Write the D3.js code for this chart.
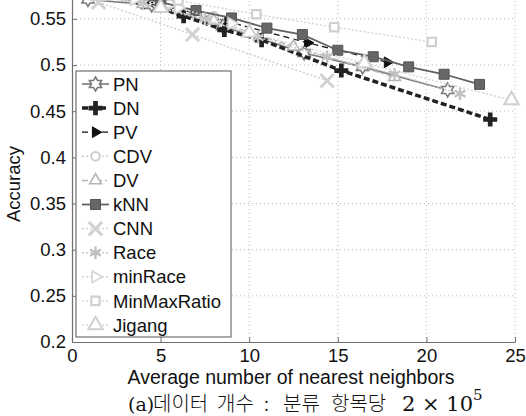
<!DOCTYPE html>
<html>
<head>
<meta charset="utf-8">
<script src="https://cdn.jsdelivr.net/npm/d3@7"></script>
<style>
  body { margin: 0; background: #fff; }
  svg { display: block; font-family: "Liberation Sans", Arial, sans-serif; }
</style>
</head>
<body>
<div id="chart"></div>
<script>
const svgWidth = 526
const svgHeight = 416

// x ticks and y ticks
const xTicks = [0, 5, 10, 15, 20, 25]
const yTicks = [0.2, 0.25, 0.3, 0.35, 0.4, 0.45, 0.5, 0.55]

// series (average number of nearest neighbors, accuracy)
const pnX = [0.9, 4.5, 8.5, 13.1, 16.4, 21.2]
const pnY = [0.571, 0.565, 0.542, 0.513, 0.498, 0.473]
const dnX = [1.5, 4, 6.3, 8.6, 10.7, 15.2, 23.6]
const dnY = [0.578, 0.568, 0.553, 0.538, 0.527, 0.494, 0.441]
const pvX = [1, 3, 5.5, 8.8, 13.3, 17.8]
const pvY = [0.585, 0.575, 0.563, 0.547, 0.524, 0.503]
const cdvX = [0.8, 3, 5.5, 8]
const cdvY = [0.58, 0.574, 0.566, 0.553]
const dvX = [1, 4, 8, 12.5, 18.2]
const dvY = [0.578, 0.566, 0.548, 0.52, 0.487]
const knnX = [1, 3, 5, 7, 9, 11, 13, 15, 17, 19, 21, 23]
const knnY = [0.585, 0.577, 0.568, 0.559, 0.551, 0.54, 0.533, 0.516, 0.509, 0.498, 0.49, 0.479]
const cnnX = [1.5, 6.8, 14.4]
const cnnY = [0.568, 0.533, 0.483]
const raceX = [1.2, 4, 7.5, 10.5, 14.4, 18.2, 21.9]
const raceY = [0.575, 0.567, 0.55, 0.53, 0.509, 0.49, 0.469]
const minRaceX = [1, 3.5, 6, 9]
const minRaceY = [0.578, 0.571, 0.562, 0.545]
const mmrX = [2, 6, 10.4, 14.8, 20.3]
const mmrY = [0.585, 0.57, 0.555, 0.541, 0.525]
const jigangX = [1.5, 5, 10, 16.5, 24.8]
const jigangY = [0.575, 0.562, 0.535, 0.502, 0.462]

const names = ["PN", "DN", "PV", "CDV", "DV", "kNN", "CNN", "Race", "minRace", "MinMaxRatio", "Jigang"]

const hexagram = (r) => {
  let pts = []
  for (let i = 0; i < 12; i++) {
    let a = -Math.PI / 2 + i * Math.PI / 6
    let rr = i % 2 === 0 ? r : r * 0.58
    pts.push([rr * Math.cos(a), rr * Math.sin(a)])
  }
  return "M" + pts.map(p => p.join(",")).join("L") + "Z"
}

const series = [
  { name: "PN", xs: pnX, ys: pnY, color: "#7a7a7a", width: 1.6, dash: null,
    marker: hexagram(7), mFill: "#fff", mStroke: "#7a7a7a", mWidth: 1.6 },
  { name: "DN", xs: dnX, ys: dnY, color: "#222", width: 3.5, dash: "6,3",
    marker: d3.symbol(d3.symbolCross, 110)(), mFill: "#222", mStroke: "#222", mWidth: 0 },
  { name: "PV", xs: pvX, ys: pvY, color: "#111", width: 1.2, dash: "6,4",
    marker: d3.symbol(d3.symbolTriangle, 50)(), rot: 90, mFill: "#111", mStroke: "#111", mWidth: 1 },
  { name: "CDV", xs: cdvX, ys: cdvY, color: "#cdcdcd", width: 1.5, dash: "2,2",
    marker: d3.symbol(d3.symbolCircle, 60)(), mFill: "#fff", mStroke: "#cdcdcd", mWidth: 2 },
  { name: "DV", xs: dvX, ys: dvY, color: "#b5b5b5", width: 1.5, dash: "6,3,2,3",
    marker: d3.symbol(d3.symbolTriangle, 60)(), mFill: "#fff", mStroke: "#b5b5b5", mWidth: 1.6 },
  { name: "kNN", xs: knnX, ys: knnY, color: "#606060", width: 1.8, dash: null,
    marker: d3.symbol(d3.symbolSquare, 100)(), mFill: "#666", mStroke: "#555", mWidth: 1 },
  { name: "CNN", xs: cnnX, ys: cnnY, color: "#d2d2d2", width: 1.5, dash: "2,2",
    marker: d3.symbol(d3.symbolX, 120)(), mFill: "none", mStroke: "#d2d2d2", mWidth: 3 },
  { name: "Race", xs: raceX, ys: raceY, color: "#c8c8c8", width: 1.5, dash: "2,2",
    marker: d3.symbol(d3.symbolAsterisk, 110)(), mFill: "none", mStroke: "#c0c0c0", mWidth: 2.4 },
  { name: "minRace", xs: minRaceX, ys: minRaceY, color: "#d4d4d4", width: 1.5, dash: "2,2",
    marker: d3.symbol(d3.symbolTriangle, 60)(), rot: 90, mFill: "#fff", mStroke: "#d4d4d4", mWidth: 1.6 },
  { name: "MinMaxRatio", xs: mmrX, ys: mmrY, color: "#d6d6d6", width: 1.5, dash: "2,2",
    marker: d3.symbol(d3.symbolSquare, 70)(), mFill: "#fff", mStroke: "#d0d0d0", mWidth: 2.2 },
  { name: "Jigang", xs: jigangX, ys: jigangY, color: "#d6d6d6", width: 1.5, dash: "2,2",
    marker: d3.symbol(d3.symbolTriangle, 90)(), mFill: "#fff", mStroke: "#d0d0d0", mWidth: 2 }
]

let svg = d3.select("#chart").append("svg")
  .attr("width", svgWidth)
  .attr("height", svgHeight)

let x = d3.scaleLinear().domain([0, 25]).range([72, 515])
let y = d3.scaleLinear().domain([0.2, 0.6]).range([342, -27.3])

// grid
let grid = svg.append("g")
grid.selectAll(".gx").data(xTicks.slice(1)).enter().append("line")
  .attr("x1", d => x(d)).attr("x2", d => x(d))
  .attr("y1", y(0.2)).attr("y2", y(0.6))
  .attr("stroke", "#b8b8b8").attr("stroke-width", 1).attr("stroke-dasharray", "1,3")
grid.selectAll(".gy").data(yTicks.slice(1)).enter().append("line")
  .attr("x1", x(0)).attr("x2", x(25))
  .attr("y1", d => y(d)).attr("y2", d => y(d))
  .attr("stroke", "#b8b8b8").attr("stroke-width", 1).attr("stroke-dasharray", "1,3")

// axes
let xAxis = svg.append("g")
  .attr("transform", `translate(0, ${y(0.2)})`)
  .call(d3.axisBottom(x).tickValues(xTicks).tickSizeInner(-5).tickSizeOuter(0).tickPadding(10).tickFormat(d3.format("d")))
let yAxis = svg.append("g")
  .attr("transform", `translate(${x(0)}, 0)`)
  .call(d3.axisLeft(y).tickValues(yTicks).tickSizeInner(-5).tickSizeOuter(0).tickPadding(6).tickFormat(d => String(d)))
;[xAxis, yAxis].forEach(a => {
  a.select(".domain").attr("stroke", "#707070").attr("stroke-width", 1.2)
  a.selectAll(".tick line").attr("stroke", "#707070")
  a.selectAll("text").attr("font-size", 18.5).attr("fill", "#111")
    .attr("font-family", "'Liberation Sans', Arial, sans-serif")
})
xAxis.selectAll("text").attr("dy", "0.55em")

// lines and markers
let line = d3.line().x(d => x(d[0])).y(d => y(d[1]))
series.forEach(s => {
  let pts = s.xs.map((v, i) => [v, s.ys[i]])
  svg.append("path")
    .datum(pts)
    .attr("d", line)
    .attr("fill", "none")
    .attr("stroke", s.color)
    .attr("stroke-width", s.width)
    .attr("stroke-dasharray", s.dash)
  svg.append("g").selectAll("path").data(pts).enter().append("path")
    .attr("d", s.marker)
    .attr("transform", d => `translate(${x(d[0])},${y(d[1])})rotate(${s.rot || 0})`)
    .attr("fill", s.mFill)
    .attr("stroke", s.mStroke)
    .attr("stroke-width", s.mWidth)
})

// legend
let legend = svg.append("g")
legend.append("rect")
  .attr("x", 76).attr("y", 71).attr("width", 155).attr("height", 266)
  .attr("fill", "#fff").attr("stroke", "#707070").attr("stroke-width", 1.2)
series.forEach((s, i) => {
  let ly = 84 + i * 24.1
  legend.append("line")
    .attr("x1", 82).attr("x2", 109).attr("y1", ly).attr("y2", ly)
    .attr("stroke", s.color).attr("stroke-width", s.width).attr("stroke-dasharray", s.dash)
  legend.append("path")
    .attr("d", s.marker)
    .attr("transform", `translate(95.5,${ly})rotate(${s.rot || 0})`)
    .attr("fill", s.mFill).attr("stroke", s.mStroke).attr("stroke-width", s.mWidth)
  legend.append("text")
    .attr("x", 113).attr("y", ly).attr("dy", "0.36em")
    .attr("font-size", 18.5).attr("fill", "#111")
    .text(names[i])
})

// axis titles
svg.append("text")
  .attr("x", 291).attr("y", 384)
  .attr("text-anchor", "middle").attr("font-size", 19.5).attr("fill", "#111")
  .text("Average number of nearest neighbors")
svg.append("text")
  .attr("transform", `translate(20, 184) rotate(-90)`)
  .attr("text-anchor", "middle").attr("font-size", 18.5).attr("fill", "#111")
  .text("Accuracy")

// caption, placed piece by piece
const capParts = [
  { t: "(a)", x: 128, f: "'DejaVu Serif', serif", s: 19 },
  { t: "데이터", x: 153, f: "'Noto Sans CJK KR', sans-serif", s: 20 },
  { t: "개수", x: 217, f: "'Noto Sans CJK KR', sans-serif", s: 20 },
  { t: ":", x: 264, f: "'Noto Sans CJK KR', sans-serif", s: 20 },
  { t: "분류", x: 283, f: "'Noto Sans CJK KR', sans-serif", s: 20 },
  { t: "항목당", x: 331, f: "'Noto Sans CJK KR', sans-serif", s: 20 },
  { t: "2 × 10", x: 402, f: "'DejaVu Serif', serif", s: 21 }
]
capParts.forEach(p => {
  svg.append("text")
    .attr("x", p.x).attr("y", 411)
    .attr("font-family", p.f).attr("font-size", p.s).attr("font-weight", 300).attr("fill", "#111")
    .text(p.t)
})
svg.append("text")
  .attr("x", 473).attr("y", 400)
  .attr("font-family", "'DejaVu Serif', serif").attr("font-size", 15).attr("fill", "#111")
  .text("5")
</script>
</body>
</html>
